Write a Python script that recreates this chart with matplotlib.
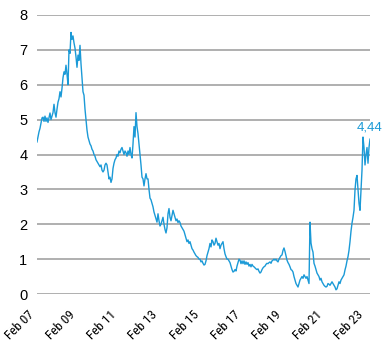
import matplotlib
matplotlib.use("Agg")
import matplotlib.pyplot as plt
import pandas as pd
from matplotlib import font_manager

values = [
    4.36, 4.5, 4.65, 4.75, 4.9, 5.05, 5.07, 4.95, 5.1, 4.95,
    5.05, 4.92, 5.05, 5.19, 5.0, 5.1, 5.2, 5.44, 5.2, 5.07,
    5.3, 5.5, 5.6, 5.8, 5.65, 5.9, 6.2, 6.37, 6.3, 6.56,
    6.3, 6.0, 7.0, 6.9, 7.5, 7.3, 7.4, 7.2, 7.05, 6.8,
    6.5, 6.85, 6.7, 7.13, 6.6, 6.2, 5.8, 5.7, 5.3, 5.0,
    4.7, 4.5, 4.4, 4.3, 4.25, 4.15, 4.1, 4.0, 3.95, 3.85,
    3.8, 3.75, 3.7, 3.65, 3.7, 3.55, 3.5, 3.55, 3.7, 3.75,
    3.7, 3.5, 3.3, 3.35, 3.2, 3.3, 3.6, 3.75, 3.85, 3.9,
    4.0, 3.95, 4.1, 4.05, 4.15, 4.2, 4.1, 4.0, 4.1, 4.05,
    3.95, 4.1, 4.0, 4.2, 4.0, 3.9, 4.3, 4.8, 4.5, 5.2,
    4.8, 4.6, 4.3, 4.0, 3.7, 3.35, 3.3, 3.1, 3.3, 3.45,
    3.3, 3.3, 3.0, 2.75, 2.7, 2.6, 2.5, 2.35, 2.25, 2.15,
    2.06, 2.3, 2.1, 1.95, 2.0, 2.1, 2.2, 2.0, 1.85, 1.75,
    1.9, 2.3, 2.45, 2.2, 2.1, 2.25, 2.4, 2.3, 2.2, 2.1,
    2.15, 2.05, 2.1, 2.05, 1.95, 1.9, 1.85, 1.8, 1.7, 1.6,
    1.5, 1.55, 1.45, 1.5, 1.4, 1.3, 1.26, 1.2, 1.15, 1.1,
    1.07, 1.05, 1.0, 1.0, 0.92, 0.95, 0.88, 0.83, 0.85, 0.95,
    1.1, 1.2, 1.3, 1.45, 1.35, 1.55, 1.5, 1.4, 1.45, 1.6,
    1.5, 1.4, 1.45, 1.3, 1.4, 1.45, 1.5, 1.3, 1.15, 1.07,
    1.0, 1.0, 0.95, 0.9, 0.8, 0.7, 0.63, 0.65, 0.7, 0.66,
    0.8, 0.9, 1.0, 0.97, 0.87, 0.95, 0.87, 0.95, 0.85, 0.92,
    0.85, 0.9, 0.8, 0.85, 0.78, 0.85, 0.8, 0.78, 0.75, 0.72,
    0.7, 0.72, 0.65, 0.6, 0.63, 0.7, 0.75, 0.78, 0.8, 0.85,
    0.88, 0.87, 0.9, 0.92, 0.88, 0.95, 0.97, 1.0, 0.97, 1.0,
    0.95, 0.92, 1.0, 1.05, 1.1, 1.12, 1.25, 1.32, 1.22, 1.1,
    0.97, 0.9, 0.85, 0.78, 0.7, 0.68, 0.63, 0.5, 0.4, 0.3,
    0.25, 0.2, 0.3, 0.4, 0.45, 0.5, 0.45, 0.55, 0.5, 0.45,
    0.5, 0.4, 0.3, 2.06, 1.46, 1.3, 1.2, 0.88, 0.8, 0.7,
    0.6, 0.55, 0.5, 0.4, 0.45, 0.35, 0.3, 0.25, 0.22, 0.2,
    0.22, 0.3, 0.28, 0.25, 0.3, 0.35, 0.3, 0.25, 0.2, 0.12,
    0.15, 0.25, 0.35, 0.3, 0.4, 0.45, 0.5, 0.55, 0.69, 0.8,
    0.95, 1.07, 1.25, 1.5, 1.8, 2.03, 2.2, 2.4, 2.98, 3.3,
    3.4, 3.0, 2.6, 2.4, 3.0, 3.55, 4.5, 4.2, 3.7, 4.0,
    4.2, 3.75, 4.2, 4.44,
]
start_date = "2007-02-01"
end_date = "2023-04-15"
tick_dates = ["2007-02-01", "2009-02-01", "2011-02-01", "2013-02-01", "2015-02-01",
              "2017-02-01", "2019-02-01", "2021-02-01", "2023-02-01"]
tick_labels = ["Feb 07", "Feb 09", "Feb 11", "Feb 13", "Feb 15",
               "Feb 17", "Feb 19", "Feb 21", "Feb 23"]
y_ticks = [0, 1, 2, 3, 4, 5, 6, 7, 8]

dates = pd.date_range(start_date, end_date, periods=len(values))

names = {f.name for f in font_manager.fontManager.ttflist}
xfont = "Liberation Sans"
for cand in ["Liberation Sans Narrow", "Roboto Condensed", "Archivo Narrow", "PT Sans Narrow"]:
    if cand in names:
        xfont = cand
        break
xsize = 8.5 if xfont == "Liberation Sans" else 9.5

blue = "#1b9ad7"
fig = plt.figure(figsize=(3.89, 3.5), dpi=100)
ax = fig.add_axes([37/389, 1-294/350, (370-37)/389, (294-15)/350])

ax.plot(dates, values, color=blue, lw=1.0, zorder=3)
ax.set_ylim(0, 8)
ax.set_xlim(pd.Timestamp(start_date), pd.Timestamp(end_date))
ax.set_yticks(y_ticks)
ax.yaxis.grid(True, color="#9a9a9a", lw=1.1)
ax.set_axisbelow(True)
for s in ax.spines.values():
    s.set_visible(False)
ax.tick_params(axis="both", length=0)
ax.tick_params(axis="y", pad=7)
ax.tick_params(axis="x", pad=10)
ax.set_yticklabels([str(v) for v in y_ticks], fontfamily="Liberation Sans", fontsize=10.5)
ax.set_xticks(pd.to_datetime(tick_dates))
ax.set_xticklabels(tick_labels, rotation=45, ha="right", va="top",
                   fontfamily=xfont, fontsize=xsize)

ax.annotate(f"{values[-1]:.2f}".replace(".", ","), xy=(dates[-1], values[-1]),
            xytext=(0, 4), textcoords="offset points", ha="center", va="bottom",
            color=blue, fontsize=9.5, fontfamily="Liberation Sans", clip_on=False)

fig.savefig("out.png", dpi=100)
